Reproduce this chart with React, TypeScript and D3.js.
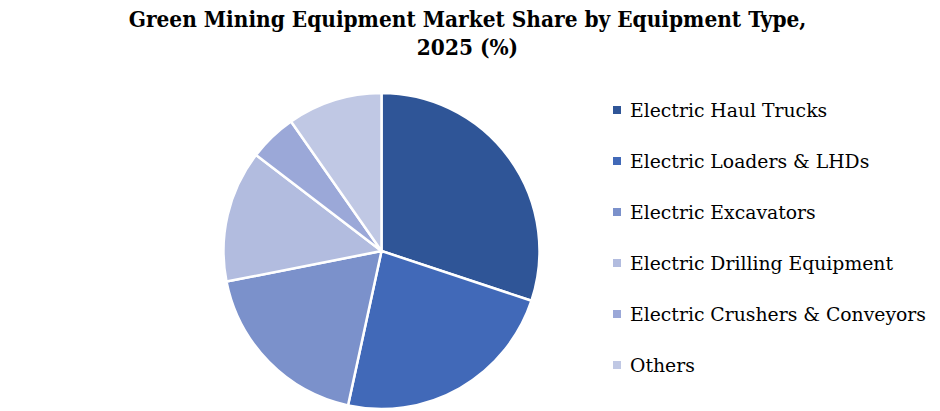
import React, { useEffect } from "react";
import * as d3 from "d3";

const categories = [
  "Electric Haul Trucks",
  "Electric Loaders & LHDs",
  "Electric Excavators",
  "Electric Drilling Equipment",
  "Electric Crushers & Conveyors",
  "Others",
];
const shares = [30.1, 23.3, 18.5, 13.5, 4.9, 9.7];
const colors = ["#2F5597", "#4169B8", "#7B91CB", "#B2BCDF", "#9BA8D8", "#C0C8E4"];
const titleLines = ["Green Mining Equipment Market Share by Equipment Type,", "2025 (%)"];

const W = 940;
const H = 411;

export default function App() {
  useEffect(() => {
    document.body.style.margin = "0";
  }, []);

  const cx = 381.5;
  const cy = 251;
  const r = 158;

  const pie = d3
    .pie<number>()
    .sort(null)
    .value((d) => d)
    .startAngle(0)
    .endAngle(2 * Math.PI);
  const arcs = pie(shares);
  const arc = d3.arc<d3.PieArcDatum<number>>().innerRadius(0).outerRadius(r);

  const legendY = d3
    .scalePoint<string>()
    .domain(categories)
    .range([110, 365]);

  return (
    <svg width={W} height={H} style={{ display: "block" }}>
      <rect width={W} height={H} fill="#ffffff" />
      <g fontFamily="'DejaVu Serif', serif" fontWeight="bold" fill="#000" textAnchor="middle" style={{ fontStretch: "condensed" }}>
        {titleLines.map((t, i) => (
          <text key={i} x={467.5} y={27 + i * 28} fontSize={22.4}>
            {t}
          </text>
        ))}
      </g>
      <g transform={`translate(${cx},${cy})`}>
        {arcs.map((a, i) => (
          <path key={i} d={arc(a) || ""} fill={colors[i]} stroke="#ffffff" strokeWidth={2.5} strokeLinejoin="round" />
        ))}
      </g>
      <g fontFamily="'DejaVu Serif', serif" fontSize={18.8} fill="#000">
        {categories.map((c, i) => {
          const y = legendY(c) || 0;
          return (
            <g key={c}>
              <rect x={613} y={y - 4} width={8} height={8} fill={colors[i]} />
              <text x={630} y={y} dominantBaseline="central">
                {c}
              </text>
            </g>
          );
        })}
      </g>
    </svg>
  );
}
